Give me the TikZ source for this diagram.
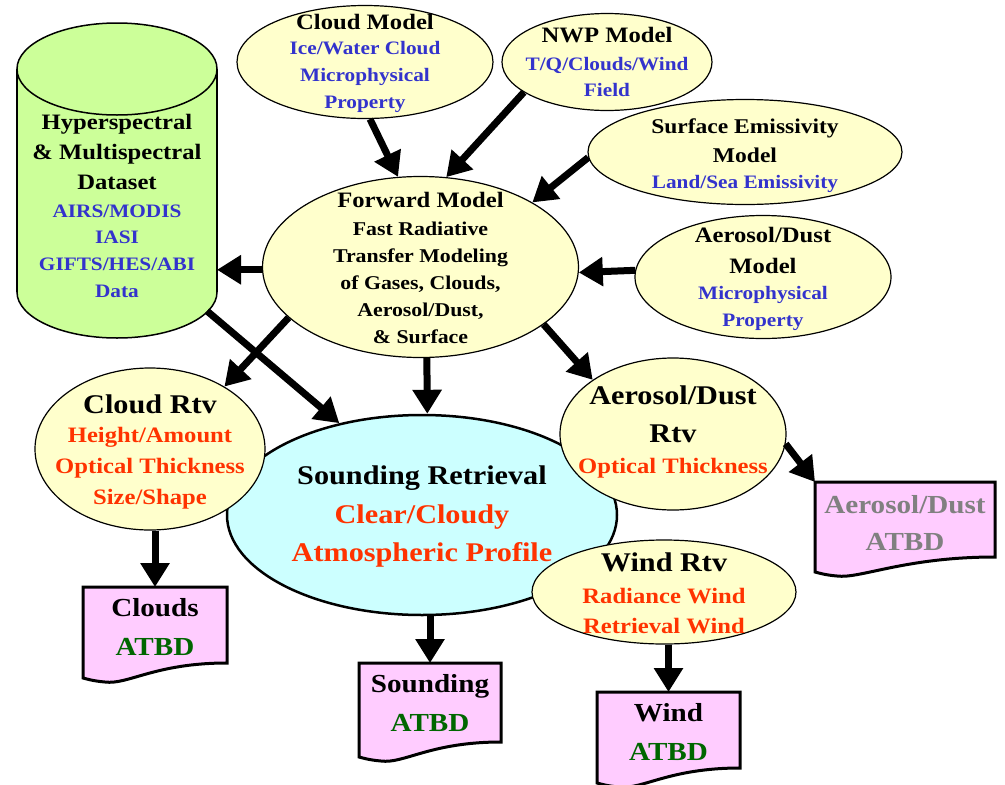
\documentclass[tikz,border=0pt]{standalone}
\usepackage{fontspec}
\setmainfont{Liberation Serif}[FakeStretch=1.12]
\usetikzlibrary{arrows.meta,calc,shapes.geometric}
\definecolor{ylw}{HTML}{FFFFCC}
\definecolor{cyn}{HTML}{CCFFFF}
\definecolor{grn}{HTML}{CCFF99}
\definecolor{pnk}{HTML}{FFCCFF}
\definecolor{bluetxt}{HTML}{3333CC}
\definecolor{redtxt}{HTML}{FF3300}
\definecolor{atbd}{HTML}{006600}
\definecolor{graytxt}{HTML}{808080}
\newcommand\myfs[2]{\fontsize{#1}{#2}\selectfont\bfseries}
\newcommand\mydoc[1]{%
  \draw[docline] (#1.north west) -- (#1.north east) -- (#1.south east)
    .. controls ($(#1.south)+(0,0)$) and ($(#1.south west)+(45,22)$) .. ($(#1.south west)+(22,19)$)
    .. controls ($(#1.south west)+(10,18)$) and ($(#1.south west)+(4,16)$) .. ($(#1.south west)+(0,15)$) -- cycle;}
\begin{document}
\begin{tikzpicture}[x=1pt,y=-1pt,
  ell/.style={ellipse, draw=black, line width=1.2pt, fill=ylw, inner sep=0pt},
  arr/.style={line width=7pt, -{Triangle[length=24pt,width=28pt]}},
  txt/.style={align=center, inner sep=0pt},
  docbox/.style={inner sep=0pt, outer sep=0pt, draw=none},
  docline/.style={draw=black, line width=3pt, fill=pnk, line join=miter},
  cyl/.style={fill=grn, draw=black, line width=1.5pt}]
\useasboundingbox[fill=white] (0,0) rectangle (1005,785);

% --- dataset cylinder ---
\node[docbox, minimum width=200pt, minimum height=223pt] (ds) at (117,180.5) {};
\filldraw[cyl] (ds.south) ellipse [x radius=100, y radius=46];
\fill[grn] (ds.south west) rectangle (ds.north east);
\draw[line width=1.5pt] (ds.south west) -- (ds.north west) (ds.south east) -- (ds.north east);
\filldraw[cyl] (ds.north) ellipse [x radius=100, y radius=46];
\coordinate (dsout) at ($(ds.south east)+(-10,19)$);

% --- ellipses ---
\node[ell, minimum width=256pt, minimum height=113pt] (cm) at (365,62) {};
\node[ell, minimum width=210pt, minimum height=97pt] (nwp) at (607,62) {};
\node[ell, minimum width=314pt, minimum height=105pt] (sem) at (745,152) {};
\node[ell, minimum width=256pt, minimum height=123pt] (adm) at (763,277) {};
\node[ell, minimum width=316pt, minimum height=181pt] (fm) at (420.5,267) {};
\node[ell, fill=cyn, line width=2.5pt, minimum width=390pt, minimum height=200pt] (sr) at (422,515) {};
\node[ell, minimum width=230pt, minimum height=162pt] (cr) at (150,449) {};
\node[ell, minimum width=226pt, minimum height=152pt] (ar) at (673,434) {};
\node[ell, minimum width=264pt, minimum height=104pt] (wr) at (664,592) {};

% --- documents ---
\node[docbox, minimum width=144pt, minimum height=76pt] (cdoc) at (155,625) {};
\mydoc{cdoc}
\node[docbox, minimum width=142pt, minimum height=79pt] (sdoc) at (430,702.5) {};
\mydoc{sdoc}
\node[docbox, minimum width=143pt, minimum height=76pt] (wdoc) at (668.5,730) {};
\mydoc{wdoc}
\node[docbox, minimum width=180pt, minimum height=75pt] (adoc) at (905,519.5) {};
\mydoc{adoc}

% --- arrows ---
\draw[arr] (cm.-85) -- (fm.104);
\draw[arr] (nwp.200) -- (fm.74);
\draw[arr] (sem.182) -- (fm.30);
\draw[arr] (adm.177) -- (fm.-2);
\draw[arr] (fm.181) -- (ds.east |- fm.181);
\draw[arr] (dsout) -- (sr.132);
\draw[arr] (fm.201) -- (cr.40);
\draw[arr] (fm.-86) -- (sr.87);
\draw[arr] (fm.-25) -- (ar.146);
\draw[arr] (ar.-5) -- (adoc.north west);
\draw[arr] (cr.south -| cdoc.north) -- (cdoc.north);
\draw[arr] (sr.south -| sdoc.north) -- (sdoc.north);
\draw[arr] (wr.south -| wdoc.north) -- (wdoc.north);

% --- texts ---
\node[txt, font=\myfs{22}{30}] (dst) at (117,152) {Hyperspectral\\\& Multispectral\\Dataset};
\node[txt, font=\myfs{19}{26.7}, text=bluetxt] (dss) at (117,251) {AIRS/MODIS\\IASI\\GIFTS/HES/ABI\\Data};

\node[txt, font=\myfs{22}{28}] (cmt) at (365,22) {Cloud Model};
\node[txt, font=\myfs{19}{27}, text=bluetxt] (cms) at (365,77) {Ice/Water Cloud\\Microphysical\\Property};

\node[txt, font=\myfs{22}{28}] (nwpt) at (607,35) {NWP Model};
\node[txt, font=\myfs{19}{26}, text=bluetxt] (nwps) at (607,77) {T/Q/Clouds/Wind\\Field};

\node[txt, font=\myfs{21}{29}] (semt) at (745,140.5) {Surface Emissivity\\Model};
\node[txt, font=\myfs{19}{27}, text=bluetxt] (sems) at (745,184) {Land/Sea Emissivity};

\node[txt, font=\myfs{22}{31}] (admt) at (763,250.5) {Aerosol/Dust\\Model};
\node[txt, font=\myfs{19}{27}, text=bluetxt] (adms) at (763,308.5) {Microphysical\\Property};

\node[txt, font=\myfs{22}{28}] (fmt) at (420.5,200) {Forward Model};
\node[txt, font=\myfs{19.5}{27}] (fms) at (420.5,283) {Fast Radiative\\Transfer Modeling\\of Gases, Clouds,\\Aerosol/Dust,\\\& Surface};

\node[txt, font=\myfs{27}{34}] (crt) at (150,404) {Cloud Rtv};
\node[txt, font=\myfs{22}{31}, text=redtxt] (crs) at (150,468) {Height/Amount\\Optical Thickness\\Size/Shape};

\node[txt, font=\myfs{27}{34}] (srt) at (422,478) {Sounding Retrieval};
\node[txt, font=\myfs{27}{38}, text=redtxt] (srs) at (422,536) {Clear/Cloudy\\Atmospheric Profile};

\node[txt, font=\myfs{27}{38}] (art) at (673,414) {Aerosol/Dust\\Rtv};
\node[txt, font=\myfs{22}{30}, text=redtxt] (ars) at (673,468) {Optical Thickness};

\node[txt, font=\myfs{27}{34}] (wrt) at (664,562) {Wind Rtv};
\node[txt, font=\myfs{22}{30}, text=redtxt] (wrs) at (664,611) {Radiance Wind\\Retrieval Wind};

\node[txt, font=\myfs{26}{34}] (cdt) at (155,608) {Clouds};
\node[txt, font=\myfs{26}{34}, text=atbd] (cda) at (155,647) {ATBD};
\node[txt, font=\myfs{26}{34}] (sdt) at (430,686) {Sounding};
\node[txt, font=\myfs{26}{34}, text=atbd] (sda) at (430,723) {ATBD};
\node[txt, font=\myfs{26}{34}] (wdt) at (668.5,713) {Wind};
\node[txt, font=\myfs{26}{34}, text=atbd] (wda) at (668.5,752) {ATBD};
\node[txt, font=\myfs{26}{34}, text=graytxt] (adt) at (905,505) {Aerosol/Dust};
\node[txt, font=\myfs{26}{34}, text=graytxt] (ada) at (905,542) {ATBD};
\end{tikzpicture}
\end{document}
